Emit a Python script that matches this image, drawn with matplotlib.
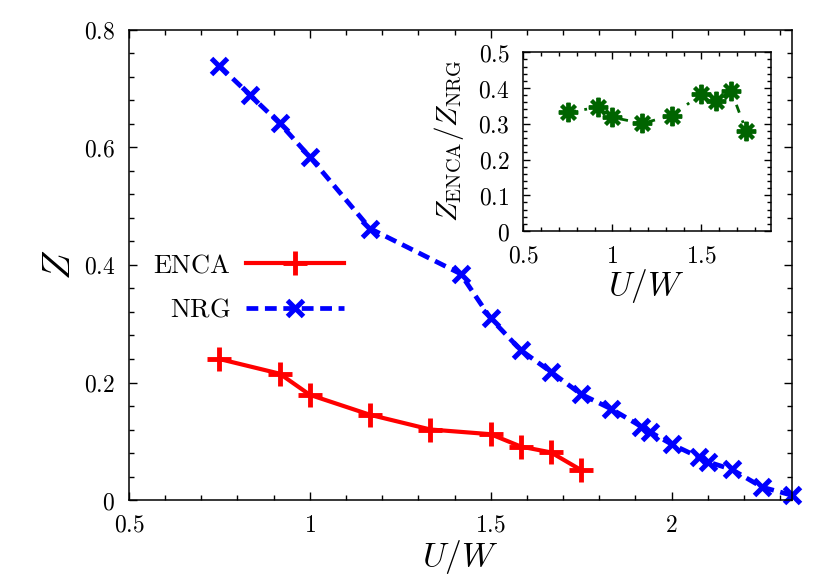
import matplotlib
matplotlib.use("Agg")
import matplotlib.pyplot as plt
from matplotlib.ticker import MultipleLocator, FuncFormatter

plt.rcParams["mathtext.fontset"] = "cm"
plt.rcParams["font.family"] = ["DejaVu Serif"]

# ENCA quasiparticle weight
u_enca = [0.75, 0.9167, 1.0, 1.1667, 1.3333, 1.5, 1.5833, 1.6667, 1.75]
z_enca = [0.240, 0.215, 0.179, 0.145, 0.120, 0.112, 0.091, 0.081, 0.051]

# NRG quasiparticle weight
u_nrg = [0.75, 0.8333, 0.9167, 1.0, 1.1667, 1.4167, 1.5, 1.5833, 1.6667,
         1.75, 1.8333, 1.9167, 1.94, 2.0, 2.075, 2.1, 2.1667, 2.25, 2.3333]
z_nrg = [0.739, 0.690, 0.641, 0.584, 0.462, 0.385, 0.309, 0.255, 0.218,
         0.180, 0.155, 0.125, 0.116, 0.095, 0.073, 0.065, 0.052, 0.022, 0.008]

# inset: ratio Z_ENCA / Z_NRG
u_ratio = [0.75, 0.9167, 1.0, 1.1667, 1.3333, 1.5, 1.5833, 1.6667, 1.75]
ratio = [0.332, 0.346, 0.318, 0.301, 0.323, 0.383, 0.365, 0.392, 0.281]

math_fmt = FuncFormatter(lambda v, p: r"$%g$" % round(v, 3))


def style_axes(ax, xmaj, xmin, ymaj, ymin, pad, size):
    ax.xaxis.set_major_locator(MultipleLocator(xmaj))
    ax.xaxis.set_minor_locator(MultipleLocator(xmin))
    ax.yaxis.set_major_locator(MultipleLocator(ymaj))
    ax.yaxis.set_minor_locator(MultipleLocator(ymin))
    ax.xaxis.set_major_formatter(math_fmt)
    ax.yaxis.set_major_formatter(math_fmt)
    ax.tick_params(which="both", direction="in", top=True, right=True,
                   width=1.0, colors="black", labelsize=size)
    ax.tick_params(which="major", length=6)
    ax.tick_params(which="minor", length=3.5)
    ax.tick_params(axis="x", pad=pad)
    ax.tick_params(axis="y", pad=pad)
    for s in ax.spines.values():
        s.set_linewidth(1.1)


fig = plt.figure(figsize=(8.30, 5.81), dpi=100)

# ---------------- main panel ----------------
ax = fig.add_axes([0.1554, 0.1394, 0.7988, 0.809])
ax.plot(u_enca, z_enca, "-", color="#ff0000", lw=3.0, marker="+",
        ms=17, mew=3.5, label=r"$\mathrm{ENCA}$")
ax.plot(u_nrg, z_nrg, color="#0000ff", lw=3.4, dashes=(2.5, 1.4),
        marker="x", ms=12, mew=3.6, label=r"$\mathrm{NRG}$", clip_on=False)
ax.set_xlim(0.5, 2.333)
ax.set_ylim(0, 0.8)
style_axes(ax, 0.5, 0.1, 0.2, 0.04, 10, 17)
ax.set_xlabel(r"$U/W$", fontsize=24)
ax.xaxis.label.set_va("center")
ax.xaxis.set_label_coords(0.499, -0.121)
ax.set_ylabel(r"$Z$", fontsize=28)
ax.yaxis.label.set_va("center")
ax.yaxis.set_label_coords(-0.105, 0.50)

ax.legend(loc="center left", bbox_to_anchor=(0.0, 0.453), frameon=False,
          markerfirst=False, handlelength=3.7, fontsize=19,
          labelspacing=0.75, handletextpad=0.6)

# ---------------- inset ----------------
ins = fig.add_axes([0.6305, 0.6024, 0.2984, 0.3076])
ins.plot(u_ratio, ratio, color="#006400", lw=2.0, ls=(0, (3, 3, 1, 3)),
         marker=(8, 2, 0), ms=14, mew=2.8)
ins.set_xlim(0.5, 1.89)
ins.set_ylim(0, 0.5)
style_axes(ins, 0.5, 0.1, 0.1, 0.02, 10, 17)
ins.tick_params(which="major", length=5)
ins.tick_params(which="minor", length=3)
ins.set_xlabel(r"$U/W$", fontsize=24)
ins.xaxis.label.set_va("center")
ins.xaxis.set_label_coords(0.495, -0.31)
ins.set_ylabel(r"$Z_{\mathrm{ENCA}}/Z_{\mathrm{NRG}}$", fontsize=21)
ins.yaxis.label.set_va("center")
ins.yaxis.set_label_coords(-0.30, 0.506)

fig.savefig("out.png", dpi=100)
